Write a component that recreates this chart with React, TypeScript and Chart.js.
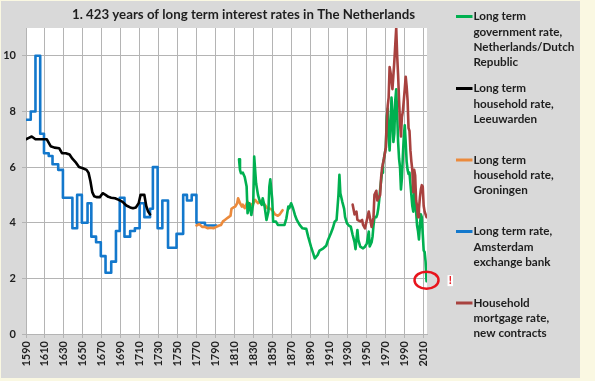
import React, { useEffect, useRef } from 'react';
import { Chart, registerables } from 'chart.js';

Chart.register(...registerables);

const TITLE = '1. 423 years of long term interest rates in The Netherlands';
const FAMILY = "Lato, 'Noto Sans', sans-serif";
const TEXT = '#1E1E1E';
const GRID = '#B4B4B4';

const xTickYears = [1590, 1610, 1630, 1650, 1670, 1690, 1710, 1730, 1750, 1770, 1790, 1810, 1830, 1850, 1870, 1890, 1910, 1930, 1950, 1970, 1990, 2010];
const yTickValues = [0, 2, 4, 6, 8, 10];

// Long term government rate, Netherlands/Dutch Republic
const govYears = [1815, 1816, 1817, 1819, 1821, 1823, 1824, 1826, 1828, 1830, 1831, 1833, 1835, 1837, 1839, 1840, 1842, 1844, 1846, 1847, 1848, 1850, 1851, 1854, 1856, 1860, 1863, 1865, 1867, 1868, 1870, 1872, 1874, 1876, 1879, 1882, 1886, 1888, 1891, 1895, 1898, 1900, 1904, 1907, 1909, 1912, 1914, 1916, 1918, 1920, 1921, 1922, 1924, 1926, 1927, 1929, 1931, 1933, 1935, 1937, 1938, 1940, 1941, 1943, 1946, 1948, 1950, 1952, 1953, 1955, 1956, 1957, 1958, 1960, 1961, 1962, 1963, 1964, 1965, 1966, 1967, 1968, 1969, 1970, 1971, 1972, 1973, 1974, 1975, 1976, 1977, 1978, 1979, 1980, 1981, 1982, 1983, 1984, 1985, 1986, 1987, 1988, 1989, 1990, 1991, 1992, 1993, 1994, 1995, 1996, 1997, 1998, 1999, 2000, 2001, 2002, 2003, 2004, 2005, 2006, 2007, 2008, 2009, 2010, 2011, 2012, 2013];
const govRates = [6.28, 5.9, 5.78, 5.8, 5.64, 5.3, 4.34, 4.7, 4.28, 4.7, 6.38, 5.42, 5.0, 4.76, 4.64, 4.88, 4.58, 4.1, 4.4, 5.3, 5.56, 4.86, 4.04, 4.04, 3.92, 3.92, 3.92, 4.16, 4.58, 4.52, 4.7, 4.52, 4.28, 4.1, 3.92, 3.8, 3.78, 3.5, 3.14, 2.72, 2.84, 3.0, 3.08, 3.17, 3.38, 3.62, 3.8, 4.04, 4.1, 5.0, 5.72, 5.06, 4.76, 4.5, 4.2, 3.98, 3.9, 3.86, 3.56, 3.3, 3.05, 3.74, 3.38, 3.14, 3.08, 3.14, 3.26, 3.68, 3.15, 3.3, 3.5, 3.9, 4.2, 4.2, 4.3, 4.5, 4.8, 5.2, 5.5, 5.8, 6.1, 6.3, 6.5, 6.7, 7.8, 8.1, 7.2, 6.6, 7.4, 8.5, 8.0, 6.9, 7.2, 8.4, 8.8, 7.9, 6.9, 6.3, 6.0, 5.2, 5.6, 6.4, 7.1, 7.5, 6.9, 6.2, 5.9, 5.75, 5.8, 5.4, 5.0, 4.6, 4.4, 5.1, 4.8, 4.4, 3.9, 3.7, 3.4, 3.9, 4.3, 4.2, 3.6, 3.0, 2.95, 2.6, 1.9];

// Long term household rate, Leeuwarden
const leeuwYears = [1590, 1593, 1596, 1600, 1605, 1612, 1616, 1620, 1625, 1628, 1632, 1636, 1639, 1643, 1646, 1650, 1654, 1656, 1658, 1660, 1662, 1665, 1668, 1671, 1674, 1677, 1680, 1684, 1688, 1692, 1696, 1700, 1703, 1706, 1709, 1711, 1715, 1717, 1719, 1721];
const leeuwRates = [7.0, 7.05, 7.1, 7.0, 7.0, 7.0, 6.75, 6.7, 6.68, 6.5, 6.5, 6.45, 6.3, 6.15, 6.0, 5.96, 5.9, 5.8, 5.5, 5.1, 4.95, 4.92, 4.92, 5.06, 5.0, 4.93, 4.9, 4.88, 4.82, 4.75, 4.62, 4.55, 4.52, 4.55, 4.7, 5.0, 5.0, 4.6, 4.4, 4.3];

// Long term household rate, Groningen
const groYears = [1770, 1773, 1776, 1779, 1782, 1785, 1788, 1791, 1794, 1796, 1798, 1800, 1802, 1804, 1806, 1807, 1809, 1811, 1813, 1814, 1816, 1818, 1819, 1821, 1824, 1826, 1828, 1830, 1832, 1835, 1837, 1839, 1842, 1845, 1848, 1850, 1853, 1856, 1858, 1860, 1861];
const groRates = [3.9, 3.95, 3.85, 3.85, 3.8, 3.82, 3.8, 3.85, 3.9, 3.92, 4.05, 4.1, 4.15, 4.2, 4.25, 4.5, 4.55, 4.58, 4.7, 4.88, 4.7, 4.58, 4.65, 4.52, 4.76, 4.6, 4.65, 4.7, 4.82, 4.7, 4.75, 4.8, 4.65, 4.52, 4.5, 4.46, 4.3, 4.25, 4.3, 4.4, 4.45];

// Long term rate, Amsterdam exchange bank (level from the given year on)
const amsYears = [1590, 1595, 1600, 1605, 1609, 1614, 1618, 1624, 1629, 1639, 1644, 1649, 1655, 1659, 1664, 1669, 1674, 1680, 1685, 1689, 1694, 1700, 1705, 1710, 1715, 1721, 1724, 1729, 1734, 1740, 1749, 1756, 1760, 1765, 1770, 1779, 1791];
const amsRates = [7.7, 8.0, 10.0, 7.2, 6.5, 6.4, 6.1, 5.9, 4.9, 3.8, 5.0, 4.0, 4.7, 3.5, 3.3, 2.8, 2.2, 2.6, 3.7, 4.9, 3.5, 3.7, 3.8, 4.7, 4.2, 4.5, 6.0, 3.8, 4.8, 3.1, 3.6, 5.0, 4.8, 5.0, 4.0, 3.9, 3.9];

// Household mortgage rate, new contracts
const mortYears = [1935, 1937, 1939, 1940, 1943, 1945, 1946, 1948, 1950, 1952, 1953, 1955, 1957, 1958, 1960, 1961, 1962, 1964, 1965, 1966, 1968, 1970, 1971, 1972, 1973, 1974, 1975, 1976, 1977, 1978, 1979, 1980, 1981, 1982, 1983, 1984, 1985, 1986, 1987, 1988, 1989, 1990, 1991, 1992, 1993, 1994, 1995, 1996, 1997, 1998, 1999, 2000, 2001, 2002, 2003, 2004, 2005, 2006, 2007, 2008, 2009, 2010, 2011, 2012, 2013];
const mortRates = [4.65, 4.3, 4.4, 4.1, 4.05, 4.1, 3.92, 3.8, 4.1, 4.4, 4.22, 3.85, 4.2, 5.0, 5.15, 4.8, 4.85, 5.0, 5.6, 5.95, 6.3, 6.7, 7.6, 8.2, 8.5, 9.6, 9.4, 9.1, 8.8, 9.3, 9.8, 10.4, 11.0, 10.0, 9.3, 8.4, 7.6, 7.1, 7.8, 8.0, 8.4, 8.8, 9.25, 8.9, 8.4, 7.4, 7.3, 6.6, 6.2, 5.9, 5.1, 5.9, 5.7, 4.8, 4.6, 4.2, 4.5, 4.9, 5.2, 5.35, 5.3, 4.6, 4.4, 4.3, 4.2];

const GREEN = '#00B050';
const BLACK = '#000000';
const ORANGE = '#EB8A3C';
const BLUE = '#1378CC';
const RED = '#A8423F';

const seriesLabels = [
  ['Long term', 'government rate,', 'Netherlands/Dutch', 'Republic'],
  ['Long term', 'household rate,', 'Leeuwarden'],
  ['Long term', 'household rate,', 'Groningen'],
  ['Long term rate,', 'Amsterdam', 'exchange bank'],
  ['Household', 'mortgage rate,', 'new contracts'],
];
const seriesColors = [GREEN, BLACK, ORANGE, BLUE, RED];

const zip = (xs: number[], ys: number[]) => xs.map((x, i) => ({ x, y: ys[i] }));

function fitFont(ctx: CanvasRenderingContext2D, text: string, target: number, base: number) {
  ctx.font = `bold ${base}px ${FAMILY}`;
  const w = ctx.measureText(text).width;
  return w > 0 ? (base * target) / w : base;
}

const framePlugin = {
  id: 'frame',
  beforeDraw(chart: any) {
    const { ctx, chartArea } = chart;
    ctx.save();
    ctx.fillStyle = '#FAF8E2';
    ctx.fillRect(0, 0, chart.width, chart.height);
    ctx.fillStyle = '#D9D9D9';
    ctx.fillRect(1, 1, 579, 377);
    ctx.fillStyle = '#FFFFFF';
    ctx.fillRect(chartArea.left, chartArea.top, chartArea.right - chartArea.left, chartArea.bottom - chartArea.top);
    ctx.restore();
  },
  afterDraw(chart: any) {
    const { ctx } = chart;
    ctx.save();
    // title
    const ts = fitFont(ctx, TITLE, 343, 14);
    ctx.font = `bold ${ts}px ${FAMILY}`;
    ctx.fillStyle = TEXT;
    ctx.textAlign = 'center';
    ctx.textBaseline = 'middle';
    ctx.fillText(TITLE, 243.5, 15);

    // legend
    const ls = fitFont(ctx, 'Netherlands/Dutch', 101, 12);
    ctx.font = `bold ${ls}px ${FAMILY}`;
    ctx.textAlign = 'left';
    const firstY = [16.5, 88.5, 160, 231.5, 303];
    seriesLabels.forEach((lines, i) => {
      const y0 = firstY[i];
      ctx.strokeStyle = seriesColors[i];
      ctx.lineWidth = 3;
      ctx.beginPath();
      ctx.moveTo(456, y0);
      ctx.lineTo(472.5, y0);
      ctx.stroke();
      ctx.fillStyle = TEXT;
      lines.forEach((t, j) => ctx.fillText(t, 473.5, y0 + j * 15.3));
    });

    // red circle round the last government rate
    const xs = chart.scales.x;
    const ys = chart.scales.y;
    const lastX = xs.getPixelForValue(govYears[govYears.length - 1]);
    const lastY = ys.getPixelForValue(govRates[govRates.length - 1]);
    ctx.strokeStyle = '#E8141C';
    ctx.lineWidth = 2.5;
    ctx.beginPath();
    ctx.ellipse(lastX, lastY - 1, 12, 8.5, 0, 0, Math.PI * 2);
    ctx.stroke();
    ctx.fillStyle = '#FFFFFF';
    ctx.fillRect(lastX + 21, lastY - 6, 5.5, 11);
    ctx.fillStyle = '#E8141C';
    ctx.font = `bold 11px ${FAMILY}`;
    ctx.textAlign = 'center';
    ctx.fillText('!', lastX + 23.8, lastY - 0.5);
    ctx.restore();
  },
};

export default function App() {
  const ref = useRef<HTMLCanvasElement | null>(null);
  useEffect(() => {
    if (!ref.current) return;
    const common = { pointRadius: 0, borderWidth: 2.6, tension: 0, fill: false, borderJoinStyle: 'round' as const, borderCapStyle: 'round' as const };
    const chart = new Chart(ref.current, {
      type: 'line',
      data: {
        datasets: [
          { label: seriesLabels[4].join(' '), data: zip(mortYears, mortRates), borderColor: RED, ...common, order: 0 },
          { label: seriesLabels[0].join(' '), data: zip(govYears, govRates), borderColor: GREEN, ...common, order: 1 },
          { label: seriesLabels[1].join(' '), data: zip(leeuwYears, leeuwRates), borderColor: BLACK, ...common, order: 2 },
          { label: seriesLabels[2].join(' '), data: zip(groYears, groRates), borderColor: ORANGE, ...common, order: 3 },
          { label: seriesLabels[3].join(' '), data: zip(amsYears, amsRates), borderColor: BLUE, ...common, stepped: true, order: 4 },
        ],
      },
      options: {
        animation: false,
        responsive: false,
        devicePixelRatio: 1,
        layout: { padding: { left: 2, right: 168, top: 28, bottom: 4 } },
        plugins: { legend: { display: false }, title: { display: false }, tooltip: { enabled: false } },
        scales: {
          x: {
            type: 'linear',
            min: 1590,
            max: 2013.5,
            afterBuildTicks: (s: any) => { s.ticks = xTickYears.map((v) => ({ value: v })); },
            afterFit: (s: any) => { s.height = 43; },
            grid: { color: GRID, lineWidth: 1, tickLength: 4, drawTicks: true },
            border: { color: GRID, width: 1 },
            ticks: {
              autoSkip: false,
              maxRotation: 90,
              minRotation: 90,
              padding: 3,
              color: TEXT,
              font: { family: FAMILY, size: 11, weight: 'bold' },
              callback: (v: any) => String(v),
            },
          },
          y: {
            type: 'linear',
            min: 0,
            max: 11,
            afterBuildTicks: (s: any) => { s.ticks = yTickValues.map((v) => ({ value: v })); },
            afterFit: (s: any) => { s.width = 24; },
            grid: { color: GRID, lineWidth: 1, tickLength: 4, drawTicks: true },
            border: { color: GRID, width: 1 },
            ticks: {
              padding: 6,
              color: TEXT,
              font: { family: FAMILY, size: 11, weight: 'bold' },
              callback: (v: any) => String(v),
            },
          },
        },
      },
      plugins: [framePlugin],
    } as any);
    return () => chart.destroy();
  }, []);

  return (
    <div style={{ position: 'absolute', left: 0, top: 0, width: 595, height: 381 }}>
      <canvas ref={ref} width={595} height={381} style={{ display: 'block', width: 595, height: 381 }} />
    </div>
  );
}
